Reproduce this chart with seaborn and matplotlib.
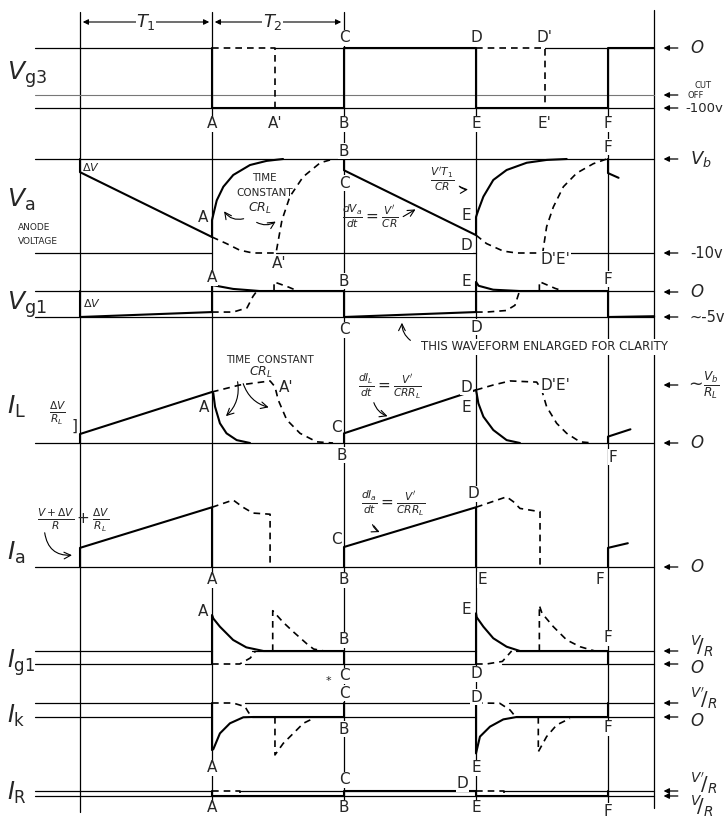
import matplotlib
matplotlib.use("Agg")
import matplotlib.pyplot as plt
import seaborn as sns

# time axis in units of T1: 0, A, B/C, D/E, F
t_marks = [0.0, 1.0, 2.0, 3.0, 4.0]
t_left, t_right = -0.34, 4.35

# Vg3 (0 = -100v, 1 = 0v)
vg3_t = [1.0, 1.0, 2.0, 2.0, 3.0, 3.0, 4.0, 4.0, 4.35]
vg3_v = [1.0, 0.0, 0.0, 1.0, 1.0, 0.0, 0.0, 1.0, 1.0]
vg3_cutoff = 0.217
vg3_d1_t = [1.0, 1.48, 1.48]
vg3_d1_v = [1.0, 1.0, 0.0]
vg3_d2_t = [3.0, 3.52, 3.52]
vg3_d2_v = [1.0, 1.0, 0.0]

# Va (0 = -10v, 1 = Vb)
va_run1_t = [0.0, 0.0, 1.0]
va_run1_v = [1.0, 0.86, 0.17]
va_rec1_t = [1.0, 1.0, 1.036, 1.086, 1.161, 1.288, 1.414, 1.538]
va_rec1_v = [0.17, 0.35, 0.56, 0.705, 0.83, 0.936, 0.98, 1.0]
va_run2_t = [2.0, 2.0, 3.0]
va_run2_v = [1.0, 0.88, 0.19]
va_rec2_t = [3.0, 3.0, 3.018, 3.056, 3.131, 3.232, 3.384, 3.535, 3.687]
va_rec2_v = [0.19, 0.383, 0.457, 0.60, 0.777, 0.883, 0.96, 0.99, 1.0]
va_f_t = [4.0, 4.0, 4.08]
va_f_v = [1.0, 0.85, 0.80]
va_d1_t = [1.0, 1.11, 1.21, 1.31, 1.485, 1.53, 1.59, 1.69, 1.82, 1.92]
va_d1_v = [0.17, 0.10, 0.03, 0.0, 0.0, 0.35, 0.6, 0.81, 0.96, 1.0]
va_d2_t = [3.0, 3.08, 3.207, 3.308, 3.505, 3.535, 3.586, 3.662, 3.763, 3.889, 3.99]
va_d2_v = [0.19, 0.10, 0.02, 0.0, 0.0, 0.28, 0.49, 0.705, 0.85, 0.95, 1.0]

# Vg1 (0 = -5v, 1 = 0v)
vg1_1_t = [0.0, 0.0, 1.0, 1.0, 1.01, 1.16, 1.36, 2.0, 2.0, 3.0, 3.0, 3.02, 3.13, 3.33, 4.0, 4.0, 4.35]
vg1_1_v = [1.0, 0.0, 0.19, 1.42, 1.22, 1.08, 1.0, 1.0, 0.0, 0.19, 1.35, 1.2, 1.05, 1.0, 1.0, 0.0, 0.03]
vg1_d1_t = [1.0, 1.16, 1.265, 1.31, 1.34]
vg1_d1_v = [0.19, 0.19, 0.35, 0.79, 1.0]
vg1_b1_t = [1.47, 1.47, 1.58, 1.65]
vg1_b1_v = [1.0, 1.35, 1.15, 1.0]
vg1_d2_t = [3.0, 3.08, 3.23, 3.295, 3.33]
vg1_d2_v = [0.19, 0.19, 0.25, 0.45, 1.0]
vg1_b2_t = [3.48, 3.48, 3.6, 3.66]
vg1_b2_v = [1.0, 1.36, 1.1, 1.0]

# IL (0 = 0, 1 = ~Vb/RL)
il_1_t = [0.0, 0.0, 1.0]
il_1_v = [0.0, 0.155, 0.88]
il_dec1_t = [1.0, 1.01, 1.023, 1.06, 1.11, 1.187, 1.288]
il_dec1_v = [0.88, 0.857, 0.626, 0.34, 0.167, 0.05, 0.0]
il_2_t = [2.0, 2.0, 3.0]
il_2_v = [0.0, 0.167, 0.914]
il_dec2_t = [3.0, 3.005, 3.018, 3.056, 3.131, 3.232, 3.333]
il_dec2_v = [0.914, 0.857, 0.684, 0.454, 0.224, 0.05, 0.0]
il_f_t = [4.0, 4.0, 4.17]
il_f_v = [0.0, 0.11, 0.236]
il_d1_t = [1.0, 1.21, 1.44, 1.477, 1.502, 1.566, 1.667, 1.793, 1.917]
il_d1_v = [0.88, 1.0, 1.07, 0.97, 0.74, 0.40, 0.167, 0.02, 0.0]
il_d2_t = [3.0, 3.131, 3.258, 3.46, 3.498, 3.535, 3.611, 3.687, 3.788, 3.886]
il_d2_v = [0.914, 1.0, 1.07, 1.05, 0.914, 0.626, 0.34, 0.167, 0.02, 0.0]

# Ia (0 = 0)
ia_1_t = [0.0, 0.0, 1.0, 1.0]
ia_1_v = [0.0, 0.33, 1.03, 0.0]
ia_2_t = [2.0, 2.0, 3.0, 3.0]
ia_2_v = [0.0, 0.345, 1.03, 0.0]
ia_f_t = [4.0, 4.0, 4.15]
ia_f_v = [0.0, 0.33, 0.41]
ia_d1_t = [1.0, 1.16, 1.235, 1.31, 1.44, 1.44]
ia_d1_v = [1.03, 1.155, 1.03, 0.93, 0.91, 0.0]
ia_d2_t = [3.0, 3.232, 3.283, 3.333, 3.485, 3.485]
ia_d2_v = [1.03, 1.21, 1.126, 1.01, 0.953, 0.0]

# Ig1 (0 = 0, 1 = V/R)
ig1_1_t = [1.0, 1.0, 1.01, 1.06, 1.16, 1.26, 1.39, 2.0, 2.0]
ig1_1_v = [0.0, 3.77, 3.5, 2.87, 1.85, 1.28, 1.0, 1.0, 0.0]
ig1_2_t = [3.0, 3.0, 3.005, 3.056, 3.131, 3.232, 3.333, 4.0, 4.0]
ig1_2_v = [0.0, 3.9, 3.6, 2.87, 1.98, 1.33, 1.0, 1.0, 0.0]
ig1_d1_t = [1.0, 1.21, 1.29, 1.33]
ig1_d1_v = [0.0, 0.0, 0.46, 1.0]
ig1_s1_t = [1.46, 1.46, 1.54, 1.62, 1.72, 1.77, 1.85]
ig1_s1_v = [1.0, 4.1, 3.2, 2.44, 1.54, 1.15, 1.0]
ig1_d2_t = [3.0, 3.08, 3.2, 3.27]
ig1_d2_v = [0.0, 0.0, 0.2, 1.0]
ig1_s2_t = [3.48, 3.48, 3.5, 3.586, 3.687, 3.788, 3.9]
ig1_s2_v = [1.0, 4.5, 3.9, 2.87, 1.85, 1.33, 1.0]

# Ik (0 = 0, 1 = V'/R)
ik_1_t = [1.0, 1.0, 1.01, 1.06, 1.136, 1.237, 1.313, 2.0, 2.0]
ik_1_v = [1.0, -2.36, -2.3, -1.17, -0.45, -0.02, 0.0, 0.0, 1.0]
ik_2_t = [3.0, 3.0, 3.03, 3.106, 3.207, 3.308, 4.0, 4.0]
ik_2_v = [1.0, -2.6, -1.4, -0.69, -0.17, 0.0, 0.0, 1.0]
ik_d1_t = [1.0, 1.16, 1.25, 1.273, 1.3]
ik_d1_v = [1.0, 1.0, 0.74, 0.38, 0.0]
ik_s1_t = [1.477, 1.477, 1.54, 1.616, 1.692, 1.768]
ik_s1_v = [0.0, -2.71, -1.88, -1.17, -0.45, -0.1]
ik_d2_t = [3.0, 3.18, 3.258, 3.295]
ik_d2_v = [1.0, 0.98, 0.5, 0.07]
ik_s2_t = [3.472, 3.472, 3.535, 3.611, 3.712]
ik_s2_v = [0.0, -2.48, -1.4, -0.57, -0.1]

# IR (0 = V/R, 1 = V'/R)
ir_1_t = [1.0, 1.0, 2.0, 2.0, 3.0, 3.0, 4.0, 4.0]
ir_1_v = [1.0, 0.0, 0.0, 1.0, 1.0, 0.0, 0.0, 1.0]
ir_d1_t = [1.0, 1.21, 1.21]
ir_d1_v = [1.0, 1.0, 0.0]
ir_d2_t = [3.0, 3.21, 3.21]
ir_d2_v = [1.0, 1.0, 0.0]

# panel -> (row of level 0, row of level 1) on the 726x818 sheet
LAYOUT = {
    'vg3': (108, 48), 'va': (253, 159), 'vg1': (317, 291), 'il': (443, 385),
    'ia': (567, 509), 'ig1': (664, 651), 'ik': (717, 703), 'ir': (796, 791),
}

# reference levels and the stretches where the trace itself is dashed
REF_LINES = [
    ('vg3', 1, [(1.0, 1.48), (3.0, 3.52)]), ('vg3', 0, []),
    ('va', 1, []), ('va', 0, [(1.0, 1.485), (3.0, 3.505)]),
    ('vg1', 1, []), ('vg1', 0, []),
    ('il', 0, []), ('ia', 0, []),
    ('ig1', 1, [(1.0, 1.3), (3.0, 3.3)]), ('ig1', 0, [(1.0, 1.25), (3.0, 3.2)]),
    ('ik', 1, [(1.0, 1.25), (3.0, 3.25)]), ('ik', 0, [(1.0, 1.3), (3.0, 3.3)]),
    ('ir', 1, [(1.0, 1.21), (3.0, 3.21)]), ('ir', 0, []),
]

SOLID = [
    ('vg3', vg3_t, vg3_v),
    ('va', va_run1_t, va_run1_v), ('va', va_rec1_t, va_rec1_v),
    ('va', va_run2_t, va_run2_v), ('va', va_rec2_t, va_rec2_v), ('va', va_f_t, va_f_v),
    ('vg1', vg1_1_t, vg1_1_v),
    ('il', il_1_t, il_1_v), ('il', il_dec1_t, il_dec1_v), ('il', il_2_t, il_2_v),
    ('il', il_dec2_t, il_dec2_v), ('il', il_f_t, il_f_v),
    ('ia', ia_1_t, ia_1_v), ('ia', ia_2_t, ia_2_v), ('ia', ia_f_t, ia_f_v),
    ('ig1', ig1_1_t, ig1_1_v), ('ig1', ig1_2_t, ig1_2_v),
    ('ik', ik_1_t, ik_1_v), ('ik', ik_2_t, ik_2_v),
    ('ir', ir_1_t, ir_1_v),
]
DASHED = [
    ('vg3', vg3_d1_t, vg3_d1_v), ('vg3', vg3_d2_t, vg3_d2_v),
    ('va', va_d1_t, va_d1_v), ('va', va_d2_t, va_d2_v),
    ('vg1', vg1_d1_t, vg1_d1_v), ('vg1', vg1_b1_t, vg1_b1_v),
    ('vg1', vg1_d2_t, vg1_d2_v), ('vg1', vg1_b2_t, vg1_b2_v),
    ('il', il_d1_t, il_d1_v), ('il', il_d2_t, il_d2_v),
    ('ia', ia_d1_t, ia_d1_v), ('ia', ia_d2_t, ia_d2_v),
    ('ig1', ig1_d1_t, ig1_d1_v), ('ig1', ig1_s1_t, ig1_s1_v),
    ('ig1', ig1_d2_t, ig1_d2_v), ('ig1', ig1_s2_t, ig1_s2_v),
    ('ik', ik_d1_t, ik_d1_v), ('ik', ik_s1_t, ik_s1_v),
    ('ik', ik_d2_t, ik_d2_v), ('ik', ik_s2_t, ik_s2_v),
    ('ir', ir_d1_t, ir_d1_v), ('ir', ir_d2_t, ir_d2_v),
]

# point labels: (t, row, text)
LETTERS = [
    (2.0, 38, 'C'), (3.0, 38, 'D'), (3.52, 38, "D'"),
    (1.0, 124, 'A'), (1.48, 124, "A'"), (2.0, 124, 'B'), (3.0, 124, 'E'), (3.52, 124, "E'"), (4.0, 124, 'F'),
    (2.0, 151, 'B'), (2.0, 183, 'C'), (0.93, 217, 'A'), (1.51, 263, "A'"),
    (2.93, 215, 'E'), (2.93, 245, 'D'), (3.6, 259, "D'E'"), (4.0, 147, 'F'),
    (1.0, 278, 'A'), (2.0, 281, 'B'), (2.93, 281, 'E'), (4.0, 279, 'F'), (2.0, 330, 'C'), (3.0, 327, 'D'),
    (0.94, 407, 'A'), (1.56, 388, "A'"), (1.94, 427, 'C'), (1.98, 455, 'B'),
    (2.93, 387, 'D'), (2.93, 408, 'E'), (3.6, 385, "D'E'"), (4.04, 457, 'F'),
    (1.0, 580, 'A'), (2.0, 580, 'B'), (1.94, 540, 'C'), (2.98, 494, 'D'), (3.05, 580, 'E'), (3.94, 579, 'F'),
    (0.93, 612, 'A'), (2.0, 640, 'B'), (2.93, 610, 'E'), (4.0, 638, 'F'), (2.0, 676, 'C'), (3.0, 674, 'D'),
    (2.0, 693, 'C'), (2.0, 729, 'B'), (1.0, 768, 'A'), (3.0, 697, 'D'), (3.0, 768, 'E'), (4.0, 728, 'F'),
    (2.0, 780, 'C'), (1.0, 808, 'A'), (2.0, 808, 'B'), (2.9, 784, 'D'), (3.0, 808, 'E'), (4.0, 811, 'F'),
]

# right hand level markers: (row, text, fontsize)
RIGHT = [
    (48, r'$O$', 12), (108, '-100v', 9.5), (159, r'$V_b$', 13), (253, '-10v', 10.5),
    (292, r'$O$', 12), (317, '~-5v', 10.5), (385, r'$\sim\!\frac{V_b}{R_L}$', 12.5),
    (443, r'$O$', 12), (567, r'$O$', 12),
    (651, r"$^{V}\!/_{R}$", 14), (664, r'$O$', 12),
    (703, r"$^{V'}\!/_{R}$", 14), (717, r'$O$', 12),
    (791, r"$^{V'}\!/_{R}$", 14), (796, r"$^{V}\!/_{R}$", 14),
]
RIGHT_TEXT_ROW = {651: 646, 664: 668, 703: 698, 717: 721, 791: 783, 796: 806}
RIGHT_TEXT_T = {108: 4.585, 385: 4.585}

LEFT = [
    (75, r'$V_{\mathrm{g3}}$', 18), (200, r'$V_{\mathrm{a}}$', 18), (305, r'$V_{\mathrm{g1}}$', 18),
    (407, r'$I_{\mathrm{L}}$', 18), (553, r'$I_{\mathrm{a}}$', 18), (663, r'$I_{\mathrm{g1}}$', 17),
    (716, r'$I_{\mathrm{k}}$', 17), (793, r'$I_{\mathrm{R}}$', 17),
]


def rows(panel, levels):
    lo, hi = LAYOUT[panel]
    return [lo + v * (hi - lo) for v in levels]


def spans(gaps):
    out, start = [], t_left
    for a, b in gaps:
        out.append((start, a))
        start = b
    out.append((start, t_right))
    return out


sns.set_theme(style='white')
plt.rcParams['font.family'] = ['DejaVu Sans']
plt.rcParams['mathtext.fontset'] = 'dejavusans'

fig = plt.figure(figsize=(7.26, 8.18), dpi=100)
ax = fig.add_axes([0, 0, 1, 1])
ax.set_xlim(-80 / 132, 646 / 132)
ax.set_ylim(818, 0)
ax.axis('off')

# time marks and right border
for t in t_marks:
    top = 12 if t <= 2 else 48
    ax.plot([t, t], [top, 812], color='black', lw=0.9)
ax.plot([t_right, t_right], [10, 808], color='black', lw=0.9)

# reference levels
for panel, level, gaps in REF_LINES:
    y = rows(panel, [level])[0]
    for a, b in spans(gaps):
        ax.plot([a, b], [y, y], color='black', lw=0.9)
cut = rows('vg3', [vg3_cutoff])[0]
ax.plot([t_left, t_right], [cut, cut], color='#777777', lw=0.8)

for panel, t, v in SOLID:
    sns.lineplot(x=t, y=rows(panel, v), sort=False, estimator=None,
                 color='black', lw=1.5, ax=ax, legend=False)
for panel, t, v in DASHED:
    sns.lineplot(x=t, y=rows(panel, v), sort=False, estimator=None,
                 color='black', lw=1.2, linestyle=(0, (4, 3)), ax=ax, legend=False)

white = dict(fc='white', ec='none', pad=0.4)
for t, r, s in LETTERS:
    ax.text(t, r, s, ha='center', va='center', fontsize=11, bbox=white)

# level markers on the right
arrow = dict(arrowstyle='-|>', color='black', lw=0.9, mutation_scale=8)
for r, s, fs in RIGHT:
    ax.annotate('', xy=(4.40, r), xytext=(4.55, r), arrowprops=arrow)
    ax.text(RIGHT_TEXT_T.get(r, 4.62), RIGHT_TEXT_ROW.get(r, r), s, ha='left', va='center', fontsize=fs)
ax.annotate('', xy=(4.40, 95), xytext=(4.55, 95), arrowprops=arrow)
ax.text(4.655, 86, 'CUT', fontsize=6, ha='left', va='center')
ax.text(4.60, 95, 'OFF', fontsize=6, ha='left', va='center')

for r, s, fs in LEFT:
    ax.text(-0.555, r, s, ha='left', va='center', fontsize=fs)
ax.text(-0.47, 228, 'ANODE', fontsize=6.5, va='center')
ax.text(-0.47, 241, 'VOLTAGE', fontsize=6.5, va='center')

# T1, T2
both = dict(arrowstyle='<|-|>', color='black', lw=0.8, mutation_scale=8)
ax.annotate('', xy=(0.0, 22), xytext=(1.0, 22), arrowprops=both)
ax.annotate('', xy=(1.0, 22), xytext=(2.0, 22), arrowprops=both)
ax.text(0.5, 22, r'$T_1$', ha='center', va='center', fontsize=13, bbox=white)
ax.text(1.46, 22, r'$T_2$', ha='center', va='center', fontsize=13, bbox=white)

# notes inside the panels
small = dict(ha='center', va='center', fontsize=7.5)
curved = dict(arrowstyle='->', color='black', lw=0.8, connectionstyle='arc3,rad=0.35')
ax.text(0.08, 167, r'$\Delta V$', fontsize=8, ha='center', va='center')
ax.text(1.40, 178, 'TIME', **small)
ax.text(1.40, 193, 'CONSTANT', **small)
ax.text(1.36, 208, r'$CR_L$', ha='center', va='center', fontsize=9)
ax.annotate('', xy=(1.08, 209), xytext=(1.26, 218), arrowprops=dict(curved, connectionstyle='arc3,rad=-0.4'))
ax.annotate('', xy=(1.50, 220), xytext=(1.32, 221), arrowprops=curved)
ax.text(2.2, 216, r'$\frac{dV_a}{dt} = \frac{V^{\prime}}{CR}$', ha='center', va='center', fontsize=11)
ax.annotate('', xy=(2.56, 208), xytext=(2.43, 218), arrowprops=dict(curved, connectionstyle='arc3,rad=0'))
ax.text(2.74, 180, r"$\frac{V'T_1}{CR}$", ha='center', va='center', fontsize=11)
ax.annotate('', xy=(2.96, 189), xytext=(2.86, 184), arrowprops=curved)

ax.text(0.09, 303, r'$\Delta V$', fontsize=8, ha='center', va='center')
ax.text(3.52, 347, 'THIS WAVEFORM ENLARGED FOR CLARITY', ha='center', va='center', fontsize=8.5,
        bbox=dict(fc='white', ec='none', pad=1.0))
ax.annotate('', xy=(2.44, 320), xytext=(2.52, 342), arrowprops=dict(curved, connectionstyle='arc3,rad=-0.3'))

ax.text(-0.17, 413, r'$\frac{\Delta V}{R_L}$', ha='center', va='center', fontsize=11)
ax.text(-0.04, 426, ']', ha='center', va='center', fontsize=11)
ax.text(1.44, 360, 'TIME  CONSTANT', **small)
ax.text(1.37, 372, r'$CR_L$', ha='center', va='center', fontsize=9)
ax.annotate('', xy=(1.09, 418), xytext=(1.19, 379), arrowprops=dict(curved, connectionstyle='arc3,rad=-0.3'))
ax.annotate('', xy=(1.45, 408), xytext=(1.23, 381), arrowprops=dict(curved, connectionstyle='arc3,rad=0.3'))
ax.text(2.35, 386, r'$\frac{dI_L}{dt} = \frac{V^{\prime}}{CRR_L}$', ha='center', va='center', fontsize=11)
ax.annotate('', xy=(2.35, 417), xytext=(2.22, 400), arrowprops=dict(curved, connectionstyle='arc3,rad=0.3'))

ax.text(-0.05, 520, r'$\frac{V+\Delta V}{R} + \frac{\Delta V}{R_L}$', ha='center', va='center', fontsize=11)
ax.annotate('', xy=(-0.04, 555), xytext=(-0.27, 530), arrowprops=dict(curved, connectionstyle='arc3,rad=0.5'))
ax.text(2.37, 503, r'$\frac{dI_a}{dt} = \frac{V^{\prime}}{CRR_L}$', ha='center', va='center', fontsize=11)
ax.annotate('', xy=(2.29, 533), xytext=(2.21, 522), arrowprops=dict(curved, connectionstyle='arc3,rad=0.3'))

ax.text(1.88, 681, '*', ha='center', va='center', fontsize=8)

fig.savefig('out.png', dpi=100)
